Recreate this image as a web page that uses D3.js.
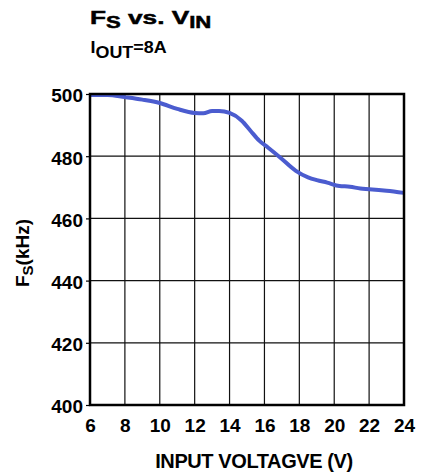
<!DOCTYPE html>
<html>
<head>
<meta charset="utf-8">
<script src="https://cdn.jsdelivr.net/npm/d3@7"></script>
<style>
  body { margin: 0; background: #fff; }
  svg text { font-family: "Liberation Sans", Arial, sans-serif; font-weight: bold; fill: #000; }
</style>
</head>
<body>
<div id="chart"></div>
<script>
// Fs vs Vin data
const vin = [6, 7, 8, 9, 10, 11, 12, 12.5, 13, 13.4, 14, 14.7, 15.2, 15.7, 16.2, 16.9, 17.8, 18.5, 19, 19.6, 20.3, 20.9, 21.5, 22, 23, 24];
const fs = [499.7, 499.7, 499, 498.2, 497.1, 495.2, 493.9, 493.8, 494.5, 494.5, 493.9, 491.4, 488.2, 485, 482.8, 479.6, 475.3, 473.2, 472.3, 471.5, 470.4, 470.2, 469.6, 469.4, 468.9, 468.2];
const xTicks = [6, 8, 10, 12, 14, 16, 18, 20, 22, 24];
const yTicks = [400, 420, 440, 460, 480, 500];

const width = 441, height = 476;
const plotLeft = 90, plotRight = 404, plotTop = 94, plotBottom = 405;

const svg = d3.select("#chart").append("svg")
	.attr("width", width)
	.attr("height", height);

const x = d3.scaleLinear().domain([6, 24]).range([plotLeft, plotRight]);
const y = d3.scaleLinear().domain([400, 500]).range([plotBottom, plotTop]);

// grid
svg.append("g")
	.selectAll("line")
	.data(xTicks.slice(1, -1))
	.join("line")
	.attr("x1", d => x(d)).attr("x2", d => x(d))
	.attr("y1", plotTop).attr("y2", plotBottom)
	.style("stroke", "#111")
	.style("stroke-width", 1.2);

svg.append("g")
	.selectAll("line")
	.data(yTicks.slice(1, -1))
	.join("line")
	.attr("x1", plotLeft).attr("x2", plotRight)
	.attr("y1", d => y(d)).attr("y2", d => y(d))
	.style("stroke", "#111")
	.style("stroke-width", 1.2);

// axes
const yAxis = svg.append("g")
	.attr("transform", `translate(${plotLeft},0)`)
	.call(d3.axisLeft(y).tickValues(yTicks).tickSize(4).tickPadding(3));
yAxis.select(".domain").remove();
yAxis.selectAll("line").style("stroke", "#000").style("stroke-width", 1.2);
yAxis.selectAll("text").style("font-size", "19px").attr("dy", "0.42em");

const xAxis = svg.append("g")
	.attr("transform", `translate(0,${plotBottom})`)
	.call(d3.axisBottom(x).tickValues(xTicks).tickSize(0).tickPadding(14));
xAxis.select(".domain").remove();
xAxis.selectAll("text").style("font-size", "19px");

// curve
const line = d3.line()
	.x((d, i) => x(vin[i]))
	.y(d => y(d))
	.curve(d3.curveMonotoneX);

svg.append("path")
	.datum(fs)
	.attr("d", line)
	.style("fill", "none")
	.style("stroke", "#4b5ccf")
	.style("stroke-width", 4);

// border
svg.append("rect")
	.attr("x", plotLeft).attr("y", plotTop)
	.attr("width", plotRight - plotLeft).attr("height", plotBottom - plotTop)
	.style("fill", "none")
	.style("stroke", "#000")
	.style("stroke-width", 2.5);

// titles (original lettering is stretched wide)
const title = svg.append("text")
	.attr("transform", "translate(90,24) scale(1.38,1)")
	.style("font-size", "19px")
	.style("stroke", "#000")
	.style("stroke-width", 0.5);
title.append("tspan").text("F");
title.append("tspan").attr("dy", 4).style("font-size", "16px").text("S");
title.append("tspan").attr("dy", -4).text(" vs. V");
title.append("tspan").attr("dy", 4).style("font-size", "16px").text("IN");

const sub = svg.append("text")
	.attr("transform", "translate(90.5,53) scale(1.12,1)")
	.style("font-size", "16px");
sub.append("tspan").text("I");
sub.append("tspan").attr("dy", 5).text("OUT");
sub.append("tspan").attr("dy", -5).text("=8A");

svg.append("text")
	.attr("x", 254)
	.attr("y", 468)
	.attr("text-anchor", "middle")
	.style("font-size", "20px")
	.style("letter-spacing", "-0.4px")
	.text("INPUT VOLTAGVE (V)");

const yl = svg.append("text")
	.attr("transform", "translate(28.5,253) rotate(-90)")
	.attr("text-anchor", "middle")
	.style("font-size", "19px");
yl.append("tspan").text("F");
yl.append("tspan").attr("dy", 4).style("font-size", "15px").text("S");
yl.append("tspan").attr("dy", -4).text("(kHz)");
</script>
</body>
</html>
